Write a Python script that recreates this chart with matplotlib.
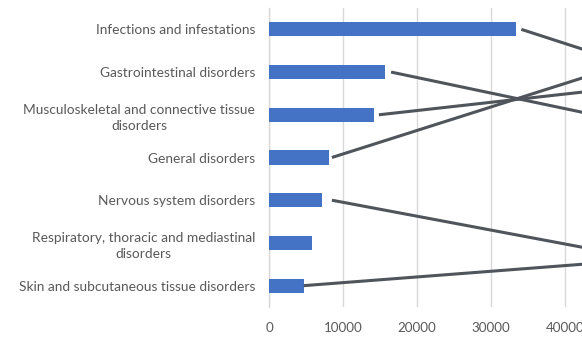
import matplotlib
matplotlib.use("Agg")
import matplotlib.pyplot as plt

categories = [
    "Infections and infestations",
    "Gastrointestinal disorders",
    "Musculoskeletal and connective tissue\ndisorders",
    "General disorders",
    "Nervous system disorders",
    "Respiratory, thoracic and mediastinal\ndisorders",
    "Skin and subcutaneous tissue disorders",
]
values = [33400, 15700, 14150, 8050, 7100, 5800, 4700]
xticks = [0, 10000, 20000, 30000, 40000]

# leader lines toward off-chart data labels (layout): (category index, gap in data units, end x, end y)
leaders = [
    (0, 700, 42300, 0.46),
    (1, 800, 42300, 1.94),
    (2, 700, 42300, 1.47),
    (3, 450, 42300, 1.14),
    (4, 1400, 42300, 5.10),
    (6, 0, 42300, 5.50),
]

W, H = 582, 337
fig = plt.figure(figsize=(W / 100, H / 100), dpi=100)
left_px, right_px, top_px, bot_px = 269, 269 + 370, 8, 307
ax = fig.add_axes([left_px / W, 1 - bot_px / H, (right_px - left_px) / W, (bot_px - top_px) / H])

font = ["Lato", "DejaVu Sans"]
tc = "#595959"
ypos = list(range(len(categories)))
ax.barh(ypos, values, height=0.33, color="#4472C4", zorder=3)
ax.set_ylim(len(categories) - 0.5, -0.5)
ax.set_xlim(0, 50000)
ax.set_xticks(xticks)
ax.set_xticklabels([str(t) for t in xticks], fontsize=9.6, color=tc, family=font)
ax.set_yticks(ypos)
ax.set_yticklabels(categories, fontsize=9.9, color=tc, family=font,
                   multialignment="center", linespacing=1.45)
ax.tick_params(axis="both", length=0)
ax.tick_params(axis="y", pad=10)
ax.tick_params(axis="x", pad=11)
ax.grid(axis="x", color="#d9d9d9", linewidth=1, zorder=0)
for s in ["top", "right", "bottom"]:
    ax.spines[s].set_visible(False)
ax.spines["left"].set_color("#d9d9d9")
ax.spines["left"].set_linewidth(1)

for idx, gap, ex, ey in leaders:
    x0 = values[idx] + gap
    y0 = idx
    x1 = x0 + (ex - x0) * 1.3
    y1 = y0 + (ey - y0) * 1.3
    ax.plot([x0, x1], [y0, y1], color="#4f555a", linewidth=2.2, solid_capstyle="butt", zorder=4, clip_on=False)

fig.savefig("out.png", dpi=100)
